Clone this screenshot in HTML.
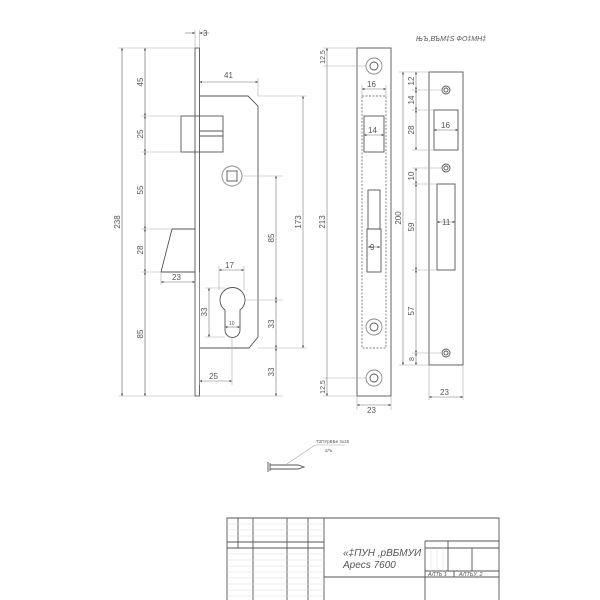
<!DOCTYPE html>
<html><head><meta charset="utf-8"><style>
html,body{margin:0;padding:0;background:#fff;}
svg{display:block;}
text{font-family:"Liberation Sans",sans-serif;fill:#555;}
</style></head><body>
<svg width="600" height="600" viewBox="0 0 600 600" xmlns="http://www.w3.org/2000/svg">
<defs>
<marker id="a" viewBox="0 0 6 6" refX="6" refY="3" markerWidth="4" markerHeight="4" orient="auto-start-reverse"><path d="M0,0L6,3L0,6z" fill="#555"/></marker>
</defs>
<g fill="none" stroke="#555" stroke-width="0.9">
<!-- main lock -->
<rect x="195" y="48" width="4.5" height="348"/>
<path d="M199.5,96H248L258,106V337L249,348H199.5"/>
<rect x="181" y="116" width="42" height="36"/>
<line x1="199.5" y1="131" x2="223" y2="131"/><line x1="199.5" y1="136" x2="223" y2="136"/>
<circle cx="232" cy="176" r="10" stroke="#888"/>
<rect x="227" y="171" width="10" height="10"/>
<path d="M195,229H172L161,272H195"/>
<path d="M225,310A12.5,12.5 0 1 1 240,310V330A7.5,7.5 0 0 1 225,330Z"/>
<!-- faceplate -->
<rect x="357" y="48" width="34" height="348"/>
<circle cx="374" cy="66" r="8" stroke="#888"/><circle cx="374" cy="66" r="4"/>
<circle cx="374" cy="378" r="8" stroke="#888"/><circle cx="374" cy="378" r="4"/>
<circle cx="374" cy="327" r="8" stroke="#888"/><circle cx="374" cy="327" r="4"/>
<rect x="362" y="96" width="24" height="252" stroke-dasharray="2,1.5" stroke-width="0.7"/>
<rect x="364" y="116" width="20" height="36"/>
<rect x="368" y="190" width="12" height="39"/>
<rect x="367" y="229" width="14" height="43"/>
<!-- strike -->
<rect x="429" y="72" width="34" height="293"/>
<circle cx="446" cy="90" r="4"/><circle cx="446" cy="90" r="2"/>
<circle cx="446" cy="168" r="4"/><circle cx="446" cy="168" r="2"/>
<circle cx="446" cy="353" r="4"/><circle cx="446" cy="353" r="2"/>
<rect x="434" y="110" width="24" height="40"/>
<rect x="437" y="184" width="18" height="86"/>
<!-- screw -->
<path d="M268,462V472M270,463V471M270,465H298L304,467L298,469H270"/>
<line x1="287" y1="464" x2="315" y2="445" stroke="#aaa" stroke-width="0.6"/>
<line x1="315" y1="445" x2="345" y2="445" stroke="#aaa" stroke-width="0.6"/>
</g>
<!-- extension lines -->
<g stroke="#aaa" stroke-width="0.6" fill="none">
<path d="M118,48H195M141,116H181M141,152H181M141,229H172M141,272H161M118,396H195"/>
<path d="M195,30V48M199.5,30V48M258,78V96"/>
<path d="M258,96H307M258,348H307M242,176H283M244,300H283M199,396H283"/>
<path d="M122,48V396M145,48V396"/>
<path d="M161,272V285M199.5,272V385M232,337V385M219,266V290M244,266V290M205,288H225M205,337H225"/>
<path d="M323,48H357M323,66H366M323,378H366M323,396H357M357,396V410M391,396V410M362,85V96M386,85V96"/>
<path d="M399,72H429M412,90H442M412,110H434M412,150H434M412,168H442M412,184H437M412,270H437M412,353H442M399,365H429M429,365V400M463,365V400"/>
</g>
<!-- dimension lines with arrows -->
<g stroke="#777" stroke-width="0.6" fill="none" marker-start="url(#a)" marker-end="url(#a)">
<line x1="122" y1="48" x2="122" y2="396"/>
<line x1="145" y1="48" x2="145" y2="116"/><line x1="145" y1="116" x2="145" y2="152"/>
<line x1="145" y1="152" x2="145" y2="229"/><line x1="145" y1="229" x2="145" y2="272"/>
<line x1="145" y1="272" x2="145" y2="396"/>
<line x1="199.5" y1="82" x2="258" y2="82"/>
<line x1="303" y1="96" x2="303" y2="348"/>
<line x1="276" y1="176" x2="276" y2="300"/><line x1="276" y1="300" x2="276" y2="348"/><line x1="276" y1="348" x2="276" y2="396"/>
<line x1="219" y1="270" x2="244" y2="270"/>
<line x1="209" y1="288" x2="209" y2="337"/>
<line x1="161" y1="282" x2="195" y2="282"/>
<line x1="199.5" y1="381" x2="232" y2="381"/>
<line x1="225" y1="327" x2="240" y2="327"/>
<line x1="327" y1="48" x2="327" y2="396"/>
<line x1="362" y1="89" x2="386" y2="89"/>
<line x1="364" y1="135" x2="384" y2="135"/>
<line x1="368" y1="247" x2="380" y2="247"/>
<line x1="357" y1="405" x2="391" y2="405"/>
<line x1="403" y1="72" x2="403" y2="365"/>
<line x1="416" y1="72" x2="416" y2="90"/><line x1="416" y1="90" x2="416" y2="110"/><line x1="416" y1="110" x2="416" y2="150"/>
<line x1="416" y1="168" x2="416" y2="184"/><line x1="416" y1="184" x2="416" y2="270"/><line x1="416" y1="270" x2="416" y2="353"/><line x1="416" y1="353" x2="416" y2="365"/>
<line x1="434" y1="130" x2="458" y2="130"/>
<line x1="437" y1="222" x2="455" y2="222"/>
<line x1="429" y1="397" x2="463" y2="397"/>
</g>
<g stroke="#777" stroke-width="0.6" marker-end="url(#a)">
<line x1="185" y1="33" x2="195" y2="33"/><line x1="209" y1="33" x2="199.5" y2="33"/>
</g>
<!-- labels -->
<g font-size="8">
<text x="203" y="36">3</text>
<text x="224" y="78">41</text>
<text x="225" y="268">17</text>
<text x="172" y="280">23</text>
<text x="209" y="379">25</text>
<text x="229" y="325" font-size="5">10</text>
<text x="367" y="87">16</text>
<text x="368" y="133">14</text>
<text x="370" y="250">9</text>
<text x="367" y="413">23</text>
<text x="441" y="128">16</text>
<text x="442" y="225">11</text>
<text x="440" y="395">23</text>
<g transform="rotate(-90)" text-anchor="middle">
<text x="-222" y="120">238</text>
<text x="-82" y="143">45</text>
<text x="-134" y="143">25</text>
<text x="-190" y="143">55</text>
<text x="-250" y="143">28</text>
<text x="-334" y="143">85</text>
<text x="-222" y="301">173</text>
<text x="-238" y="274">85</text>
<text x="-324" y="274">33</text>
<text x="-372" y="274">33</text>
<text x="-312" y="207">33</text>
<text x="-222" y="325">213</text>
<text x="-57" y="325" font-size="7">12,5</text>
<text x="-387" y="325" font-size="7">12,5</text>
<text x="-218" y="401">200</text>
<text x="-81" y="414">12</text>
<text x="-100" y="414">14</text>
<text x="-130" y="414">28</text>
<text x="-176" y="414">10</text>
<text x="-227" y="414">59</text>
<text x="-311" y="414">57</text>
<text x="-359" y="414" font-size="7">8</text>
</g>
</g>
<text x="416" y="41" font-size="7" font-style="italic">ЊЪ,ВЪМ‡Ѕ ФО‡МН‡</text>
<text x="316" y="443" font-size="4.5">Т2ПУрВБе 4х25</text>
<text x="325" y="452" font-size="4.5">2/Ъ</text>
<!-- title block -->
<g stroke="#555" stroke-width="0.9" fill="none">
<path d="M227,600V518H499V600"/>
<path d="M238,518V548M253,518V600M287,518V600M308,518V600M324,518V600"/>
<path d="M227,542H324M227,548H324M324,577H499"/>
<path d="M425,541V600M425,541H499M425,548H499M425,571H499M448,541V571M472,548V571M454,571V577"/>
</g>
<g stroke="#ddd" stroke-width="0.5">
<path d="M227,524H324M227,530H324M227,536H324M227,554H324M227,560H324M227,566H324M227,572H324M227,578H324M227,584H324M227,590H324M227,596H324"/>
<path d="M431,548V571M437,548V571M443,548V571"/>
</g>
<text x="343" y="556" font-size="10" font-style="italic" fill="#333">«‡ПУН ,рВБМУИ</text>
<text x="343" y="568" font-size="10" font-style="italic" fill="#333">Apecs 7600</text>
<text x="428" y="576" font-size="5.5" font-style="italic">АЛТЬ 1</text>
<text x="459" y="576" font-size="5.5" font-style="italic">АЛТЬУ, 2</text>
</svg>
</body></html>
